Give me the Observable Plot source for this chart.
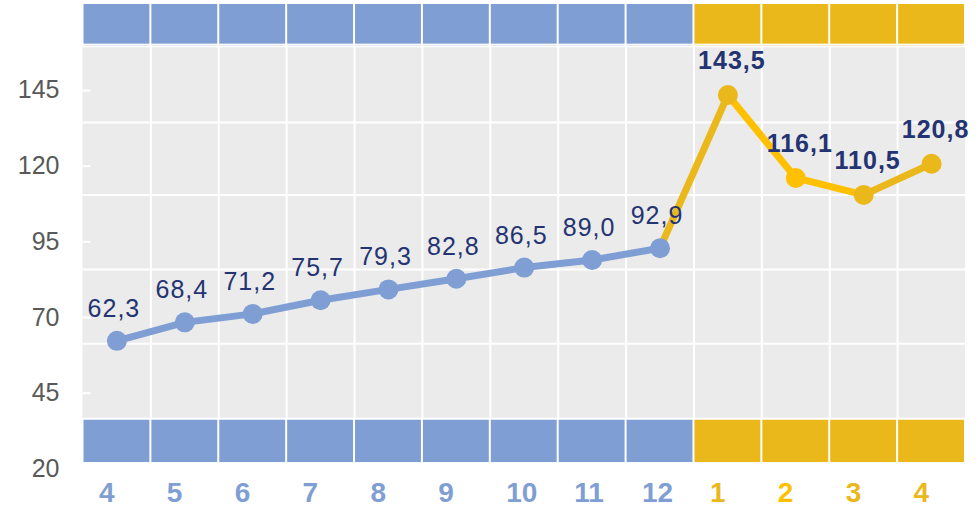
<!DOCTYPE html>
<html>
<head>
<meta charset="utf-8">
<script src="https://cdn.jsdelivr.net/npm/d3@7"></script>
<script src="https://cdn.jsdelivr.net/npm/@observablehq/plot@0.6"></script>
<style>
  html, body { margin: 0; padding: 0; background: #fff; }
  #chart { width: 976px; height: 511px; }
  g[fill="#243372"] text { letter-spacing: 1px; }
</style>
</head>
<body>
<div id="chart"></div>
<script>
// ---- data ----
const months = ["4", "5", "6", "7", "8", "9", "10", "11", "12", "1", "2", "3", "4"];
const values = [62.3, 68.4, 71.2, 75.7, 79.3, 82.8, 86.5, 89.0, 92.9, 143.5, 116.1, 110.5, 120.8];
const periods = ["prev", "prev", "prev", "prev", "prev", "prev", "prev", "prev", "prev", "curr", "curr", "curr", "curr"];
const yTicks = [20, 45, 70, 95, 120, 145];
const gridValues = [36.6, 61.3, 85.9, 110.5, 134.4, 159.6];

// ---- styles ----
const BLUE = "#7F9ED3";
const GOLD = "#EBB81C";
const BRIGHT = "#FFC000";
const NAVY = "#243372";
const FONT = "Liberation Sans, Arial, sans-serif";

const pts = months.map((m, i) => ({
  i, month: m, value: values[i], period: periods[i],
  color: periods[i] === "prev" ? BLUE : (i === 10 ? BRIGHT : GOLD)
}));
const segs = pts.slice(1).map((p, k) => {
  const a = pts[k];
  let c = BLUE;
  if (p.period === "curr") c = (p.i === 10 || p.i === 11) ? BRIGHT : GOLD;
  return {x1: a.i + 0.5, y1: a.value, x2: p.i + 0.5, y2: p.value, color: c};
});
const fmt = d => d.toFixed(1).replace(".", ",");

const chart = Plot.plot({
  width: 976,
  height: 511,
  marginLeft: 82.5,
  marginRight: 11,
  marginTop: 4,
  marginBottom: 42.6,
  style: {fontFamily: FONT, background: "#fff", overflow: "visible"},
  x: {domain: [0, 13], axis: null},
  y: {domain: [20, 173.4], axis: null},
  marks: [
    // gray plot area
    Plot.rect([0], {x1: 0, x2: 13, y1: 36.6, y2: 159.3, fill: "#EBEBEB"}),
    // bottom band
    Plot.rect(pts, {x1: d => d.i, x2: d => d.i + 1, y1: 22.1, y2: 36.4, fill: d => d.period === "prev" ? BLUE : GOLD, insetLeft: 1, insetRight: 1}),
    // top band
    Plot.rect(pts, {x1: d => d.i, x2: d => d.i + 1, y1: 160.3, y2: 173.4, fill: d => d.period === "prev" ? BLUE : GOLD, insetLeft: 1, insetRight: 1}),
    Plot.rect(pts, {x1: d => d.i, x2: d => d.i + 1, y1: 159.35, y2: 159.85, fill: d => d.period === "prev" ? BLUE : GOLD, insetLeft: 1, insetRight: 1}),
    // grid
    Plot.ruleY(gridValues, {y: d => d, x1: 0, x2: 13, stroke: "#fff", strokeWidth: 2}),
    Plot.ruleX(d3.range(1, 13), {x: d => d, y1: 36.6, y2: 159.6, stroke: "#fff", strokeWidth: 2}),
    // y axis: white inner ticks + gray labels
    Plot.axisY(yTicks, {anchor: "left", tickSize: 8, dx: 8, stroke: "#fff", strokeWidth: 2, tickFormat: () => ""}),
    Plot.axisY(yTicks, {anchor: "left", tickSize: 0, tickPadding: 23.5, fill: "#595959", fontSize: 25, fontFamily: FONT}),
    // line segments
    Plot.link(segs, {x1: "x1", y1: "y1", x2: "x2", y2: "y2", stroke: d => d.color, strokeWidth: 7, strokeLinecap: "round"}),
    // dots
    Plot.dot(pts, {x: d => d.i + 0.5, y: "value", r: 10, fill: d => d.color, stroke: "none"}),
    // value labels
    Plot.text(pts.filter(d => d.period === "prev"), {
      x: d => d.i + 0.5, y: "value", text: d => fmt(d.value), fill: NAVY,
      fontSize: 25, fontFamily: FONT, lineAnchor: "bottom", dx: -3, dy: -24, textAnchor: "middle"
    }),
    Plot.text(pts.filter(d => d.period === "curr"), {
      x: d => d.i + 0.5, y: "value", text: d => fmt(d.value), fill: NAVY,
      fontSize: 25, fontWeight: "bold", fontFamily: FONT, lineAnchor: "bottom", dx: 4, dy: -26, textAnchor: "middle"
    }),
    // x labels
    Plot.text(pts, {
      x: d => d.i + 0.5, frameAnchor: "bottom", text: "month", fill: d => d.color,
      fontSize: 28, fontWeight: "bold", fontFamily: FONT, textAnchor: "start", dx: -18, dy: 24, lineAnchor: "middle"
    })
  ]
});
document.getElementById("chart").appendChild(chart);
</script>
</body>
</html>
